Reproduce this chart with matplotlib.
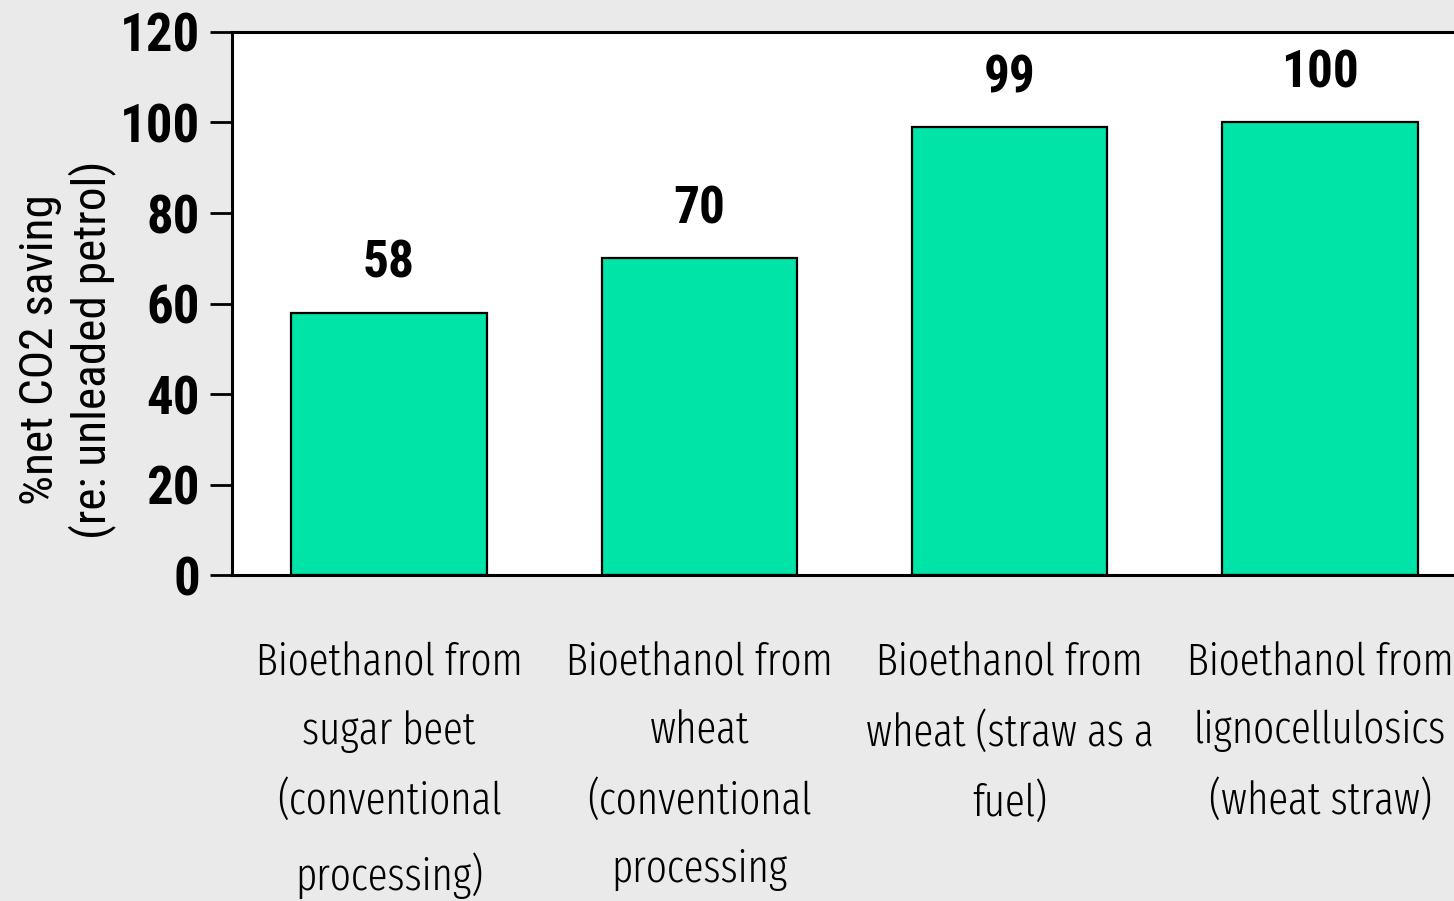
import matplotlib
matplotlib.use("Agg")
import matplotlib.pyplot as plt

categories = [
    "Bioethanol from\nsugar beet\n(conventional\nprocessing)",
    "Bioethanol from\nwheat\n(conventional\nprocessing",
    "Bioethanol from\nwheat (straw as a\nfuel)",
    "Bioethanol from\nlignocellulosics\n(wheat straw)",
]
values = [58, 70, 99, 100]
yticks = [0, 20, 40, 60, 80, 100, 120]
ylabel = "%net CO2 saving\n(re: unleaded petrol)"

num_font = "Roboto Condensed"
cat_font = "Fira Sans Extra Condensed"

bg = "#EAEAEA"
bar_color = "#00E4A7"

fig = plt.figure(figsize=(14.54, 9.01), dpi=100, facecolor=bg)
ax = fig.add_axes([232/1454, 1 - 575/901, (1477-232)/1454, (575-32)/901])
ax.set_facecolor("white")

x = list(range(len(categories)))
ax.bar(x, values, width=0.63, color=bar_color, edgecolor="black", linewidth=1.6)
for xi, v in zip(x, values):
    ax.annotate(str(v), (xi, v), xytext=(0, 17), textcoords="offset points",
                ha="center", va="bottom", fontsize=37, fontweight="bold",
                family=num_font)

ax.set_xlim(-0.506, len(categories) - 1 + 0.506)
ax.set_ylim(0, 120)
ax.set_yticks(yticks)
ax.set_yticklabels([str(t) for t in yticks], fontsize=38, fontweight="bold", family=num_font)
ax.set_xticks(x)
ax.set_xticklabels(categories, fontsize=32, family=cat_font, fontweight=300, linespacing=1.77)
ax.tick_params(axis="x", length=0, pad=48)
ax.tick_params(axis="y", length=16, width=2, pad=7, direction="out")

for s in ["left", "top", "bottom"]:
    ax.spines[s].set_linewidth(2.2)
ax.spines["right"].set_visible(False)

fig.text(67/1454, 1 - 350/901, ylabel, rotation=90, ha="center", va="center",
         multialignment="center", fontsize=34, family=num_font, linespacing=1.15)

fig.savefig("out.png", dpi=100, facecolor=bg)
